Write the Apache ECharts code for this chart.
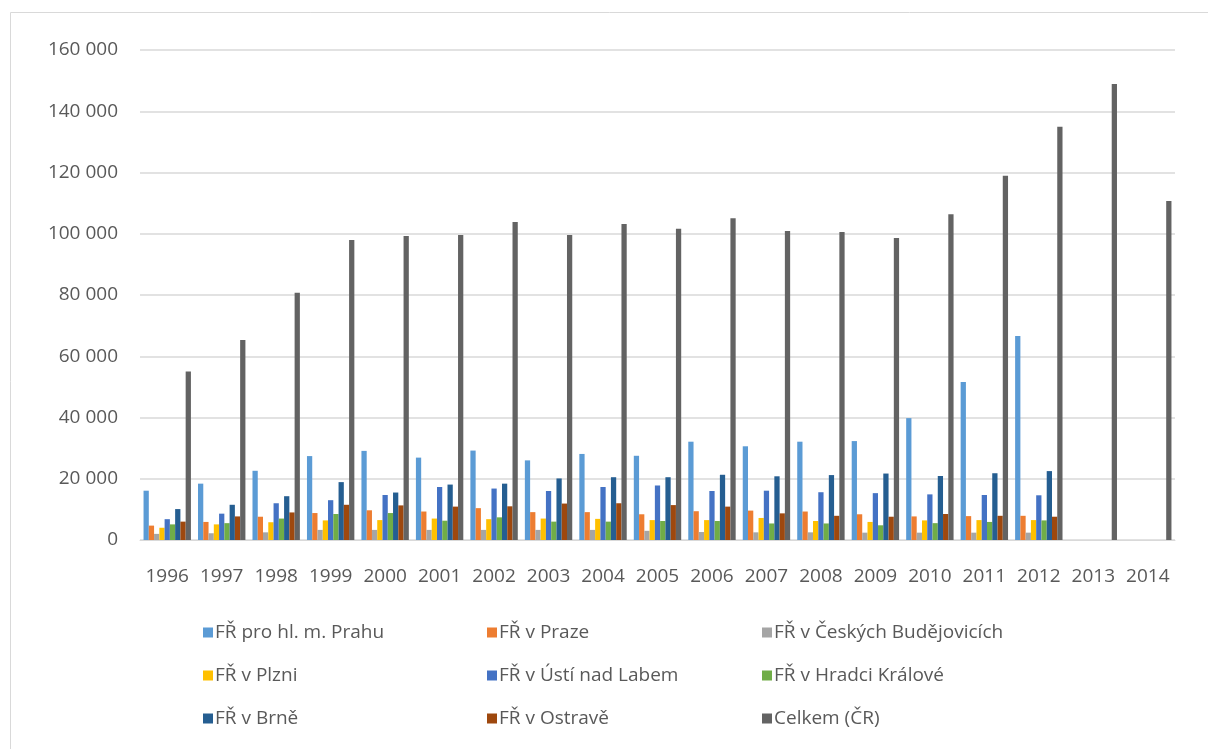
<!DOCTYPE html>
<html>

<head>
  <meta charset="utf-8">
  <title>FŘ</title>
  <script src="https://cdn.jsdelivr.net/npm/echarts@6/dist/echarts.min.js"></script>
  <style>
    body { margin: 0; background: #fff; }
  </style>
</head>

<body>
  <div id="chart" style="width: 1208px;height:749px;"></div>
  <script>
    const years = ['1996', '1997', '1998', '1999', '2000', '2001', '2002', '2003', '2004', '2005',
      '2006', '2007', '2008', '2009', '2010', '2011', '2012', '2013', '2014'];
    const yTicks = [0, 20000, 40000, 60000, 80000, 100000, 120000, 140000, 160000];

    const prahu = [16100, 18400, 22600, 27400, 29100, 26900, 29200, 26000, 28100, 27500, 32100, 30600, 32100, 32300, 39800, 51600, 66600, null, null];
    const praze = [4700, 5900, 7600, 8800, 9700, 9300, 10400, 9100, 9100, 8400, 9400, 9600, 9300, 8400, 7700, 7800, 7900, null, null];
    const budejovice = [2000, 2200, 2500, 3300, 3300, 3300, 3300, 3300, 3300, 3000, 2600, 2500, 2500, 2400, 2400, 2400, 2400, null, null];
    const plzen = [4000, 5100, 5800, 6400, 6500, 7000, 6800, 7000, 6900, 6500, 6500, 7200, 6200, 5900, 6400, 6500, 6500, null, null];
    const usti = [6800, 8600, 12000, 13000, 14700, 17300, 16800, 16000, 17300, 17800, 16000, 16100, 15600, 15300, 14900, 14700, 14600, null, null];
    const hradec = [5100, 5500, 7000, 8500, 8800, 6300, 7400, 6000, 6000, 6200, 6200, 5400, 5400, 4800, 5500, 5900, 6400, null, null];
    const brno = [10100, 11500, 14300, 18900, 15500, 18100, 18400, 20100, 20500, 20500, 21300, 20800, 21200, 21700, 20900, 21800, 22500, null, null];
    const ostrava = [6000, 7700, 9000, 11500, 11300, 10900, 11000, 11900, 12000, 11400, 10900, 8700, 7900, 7600, 8500, 7900, 7600, null, null];
    const celkem = [55000, 65300, 80700, 98000, 99300, 99600, 103800, 99600, 103200, 101600, 105100, 100900, 100600, 98600, 106400, 118900, 134900, 148900, 110700];

    const names = ['FŘ pro hl. m. Prahu', 'FŘ v Praze', 'FŘ v Českých Budějovicích', 'FŘ v Plzni',
      'FŘ v Ústí nad Labem', 'FŘ v Hradci Králové', 'FŘ v Brně', 'FŘ v Ostravě', 'Celkem (ČR)'];
    const values = [prahu, praze, budejovice, plzen, usti, hradec, brno, ostrava, celkem];
    const colors = ['#5B9BD5', '#ED7D31', '#A5A5A5', '#FFC000', '#4472C4', '#70AD47', '#255E91', '#9E480E', '#636363'];

    const font = 'Open Sans';
    let series = [];
    for (let i in names) {
      series.push({
        name: names[i],
        type: 'bar',
        data: values[i],
        barGap: '0%',
        barCategoryGap: '13%',
        itemStyle: { color: colors[i] }
      });
    }

    function legend(idx, left) {
      return {
        orient: 'vertical',
        left: left,
        top: 618,
        itemGap: 24,
        itemWidth: 10,
        itemHeight: 10,
        icon: 'rect',
        data: idx.map(function (k) { return names[k]; }),
        textStyle: { fontFamily: font, fontSize: 19, color: '#595959', padding: [0, 0, 0, -3] }
      };
    }

    let myChart = echarts.init(document.getElementById('chart'));
    let option = {
      animation: false,
      color: colors,
      graphic: [{
        type: 'rect',
        shape: { x: 10.5, y: 12.5, width: 1200, height: 740 },
        style: { fill: 'none', stroke: '#d9d9d9', lineWidth: 1 }
      }],
      legend: [legend([0, 3, 6], 198), legend([1, 4, 7], 482), legend([2, 5, 8], 757)],
      grid: {
        left: 140,
        right: 33,
        top: 50,
        bottom: 209
      },
      xAxis: {
        type: 'category',
        data: years,
        axisTick: { show: false },
        axisLine: { lineStyle: { color: '#d9d9d9', width: 1 } },
        axisLabel: { fontFamily: font, fontSize: 19, color: '#595959', margin: 27, interval: 0 }
      },
      yAxis: {
        type: 'value',
        min: yTicks[0],
        max: yTicks[yTicks.length - 1],
        interval: 20000,
        axisLine: { show: false },
        axisTick: { show: false },
        splitLine: { lineStyle: { color: '#d9d9d9', width: 1.5 } },
        axisLabel: {
          fontFamily: font, fontSize: 19, color: '#595959', margin: 22,
          formatter: function (v) { return String(v).replace(/\B(?=(\d{3})+(?!\d))/g, ' '); }
        }
      },
      series: series
    };
    myChart.setOption(option);
  </script>

</body>

</html>
